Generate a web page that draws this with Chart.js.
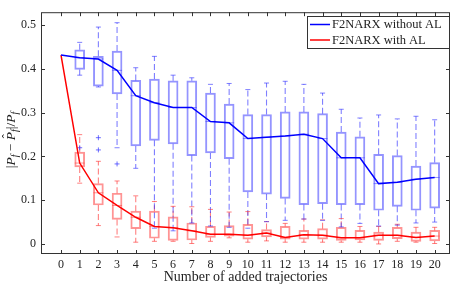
<!DOCTYPE html>
<html>
<head>
<meta charset="utf-8">
<script src="https://cdn.jsdelivr.net/npm/chart.js@4.4.0/dist/chart.umd.min.js"></script>
<style>
  html, body { margin: 0; padding: 0; background: #fff; }
</style>
</head>
<body>
<canvas id="chart" width="462" height="289"></canvas>
<script>
// number of added trajectories (x ticks) and the box positions
const iterations = [0, 1, 2, 3, 4, 5, 6, 7, 8, 9, 10, 11, 12, 13, 14, 15, 16, 17, 18, 19, 20];
const boxPos = [1, 2, 3, 4, 5, 6, 7, 8, 9, 10, 11, 12, 13, 14, 15, 16, 17, 18, 19, 20];
const yTicks = [0, 0.1, 0.2, 0.3, 0.4, 0.5];

// median error, F2NARX without AL
const medianNoAL = [0.432, 0.426, 0.423, 0.397, 0.339, 0.323, 0.312, 0.312, 0.280, 0.277, 0.241,
                    0.244, 0.247, 0.251, 0.241, 0.197, 0.197, 0.138, 0.141, 0.148, 0.152];
// median error, F2NARX with AL
const medianAL = [0.432, 0.185, 0.117, 0.088, 0.061, 0.040, 0.037, 0.030, 0.022, 0.022, 0.020,
                  0.025, 0.015, 0.021, 0.020, 0.014, 0.014, 0.020, 0.020, 0.015, 0.018];

// box plot pieces, without AL (x = 1..20)
const q1NoAL = [0.399, 0.361, 0.343, 0.224, 0.237, 0.229, 0.202, 0.208, 0.195, 0.119,
                0.114, 0.104, 0.090, 0.092, 0.090, 0.090, 0.077, 0.086, 0.077, 0.082];
const q3NoAL = [0.444, 0.429, 0.441, 0.374, 0.377, 0.373, 0.373, 0.345, 0.320, 0.296,
                0.296, 0.302, 0.302, 0.298, 0.256, 0.245, 0.205, 0.202, 0.178, 0.186];
const hiNoAL = [0.461, 0.496, 0.506, 0.403, 0.429, 0.386, 0.380, 0.365, 0.367, 0.353,
                0.368, 0.372, 0.365, 0.345, 0.308, 0.288, 0.295, 0.286, 0.292, 0.284];
const loNoAL = [0.386, 0.359, 0.220, 0.173, 0.036, 0.030, 0.048, 0.041, 0.038, 0.036,
                0.051, 0.054, 0.057, 0.054, 0.039, 0.047, 0.041, 0.043, 0.048, 0.050];
const outX_NoAL = [1, 2, 2, 3];
const outY_NoAL = [0.220, 0.243, 0.215, 0.183];

// box plot pieces, with AL (x = 1..20)
const q1AL = [0.176, 0.089, 0.056, 0.035, 0.013, 0.008, 0.009, 0.015, 0.018, 0.011,
              0.016, 0.011, 0.011, 0.011, 0.008, 0.009, 0.008, 0.012, 0.006, 0.007];
const q3AL = [0.210, 0.138, 0.116, 0.075, 0.075, 0.062, 0.048, 0.040, 0.042, 0.045,
              0.033, 0.040, 0.031, 0.035, 0.038, 0.031, 0.027, 0.038, 0.027, 0.031];
const hiAL = [0.250, 0.189, 0.144, 0.110, 0.097, 0.086, 0.085, 0.079, 0.073, 0.074,
              0.051, 0.047, 0.057, 0.055, 0.058, 0.040, 0.040, 0.045, 0.038, 0.038];
const loAL = [0.139, 0.042, 0.016, 0.004, 0.006, 0.006, 0.001, 0.006, 0.014, 0.004,
              0.007, 0.004, 0.004, 0.004, 0.004, 0.004, 0.000, 0.006, 0.004, 0.001];

const serif = 'Liberation Serif';
const blue = '#0000ff', red = '#ff0000';
const blueBox = 'rgba(60,60,255,0.55)', redBox = 'rgba(255,60,60,0.55)';
const blueDash = 'rgba(50,50,255,0.62)', redDash = 'rgba(255,50,50,0.62)';

// helpers to build the library's data from the arrays
const pts = (xs, ys) => xs.map((x, i) => ({ x: x, y: ys[i] }));
const boxes = (lo, hi) => boxPos.map((x, i) => ({ x: x, y: [lo[i], hi[i]] }));
function whiskers(from, to) {
  const out = [];
  boxPos.forEach((x, i) => { out.push({ x: x, y: from[i] }, { x: x, y: to[i] }, { x: x, y: null }); });
  return out;
}

function boxSet(label, lo, hi, color) {
  return { type: 'bar', label: label, data: boxes(lo, hi), grouped: false, barThickness: 10,
           backgroundColor: 'rgba(0,0,0,0)', borderColor: color, borderWidth: 1.3,
           borderSkipped: false, order: 3 };
}
function whiskerSet(label, from, to, color) {
  return { type: 'line', label: label, data: whiskers(from, to), borderColor: color,
           borderWidth: 1.1, borderDash: [6, 3], pointRadius: 0, spanGaps: false, order: 3 };
}
function markSet(label, xs, ys, color, style, r) {
  return { type: 'scatter', label: label, data: pts(xs, ys), pointStyle: style, pointRadius: r,
           borderColor: color, backgroundColor: color, pointBorderWidth: 1, order: 2 };
}

const datasets = [
  { type: 'line', label: 'F2NARX without AL', data: pts(iterations, medianNoAL),
    borderColor: blue, backgroundColor: blue, borderWidth: 1.5, pointRadius: 0, order: 0 },
  { type: 'line', label: 'F2NARX with AL', data: pts(iterations, medianAL),
    borderColor: red, backgroundColor: red, borderWidth: 1.5, pointRadius: 0, order: 0 },
  boxSet('box without AL', q1NoAL, q3NoAL, blueBox),
  boxSet('box with AL', q1AL, q3AL, redBox),
  whiskerSet('upper whisker without AL', q3NoAL, hiNoAL, blueDash),
  whiskerSet('lower whisker without AL', q1NoAL, loNoAL, blueDash),
  whiskerSet('upper whisker with AL', q3AL, hiAL, redDash),
  whiskerSet('lower whisker with AL', q1AL, loAL, redDash),
  markSet('caps hi without AL', boxPos, hiNoAL, blueDash, 'line', 2.5),
  markSet('caps lo without AL', boxPos, loNoAL, blueDash, 'line', 2.5),
  markSet('caps hi with AL', boxPos, hiAL, redDash, 'line', 2.5),
  markSet('caps lo with AL', boxPos, loAL, redDash, 'line', 2.5),
  markSet('median without AL', boxPos, medianNoAL.slice(1), blueBox, 'line', 5),
  markSet('median with AL', boxPos, medianAL.slice(1), redBox, 'line', 5),
  markSet('outliers without AL', outX_NoAL, outY_NoAL, 'rgba(60,60,255,0.75)', 'cross', 2.5)
];

// frame with inward ticks, legend box and the y label
const decorations = {
  id: 'decorations',
  afterDraw(chart) {
    const ctx = chart.ctx, a = chart.chartArea, sx = chart.scales.x, sy = chart.scales.y;
    ctx.save();
    ctx.strokeStyle = '#333';
    ctx.lineWidth = 1;
    ctx.strokeRect(a.left + 0.5, a.top + 0.5, a.right - a.left - 1, a.bottom - a.top - 1);
    ctx.beginPath();
    iterations.forEach(v => {
      const px = Math.round(sx.getPixelForValue(v)) + 0.5;
      ctx.moveTo(px, a.bottom); ctx.lineTo(px, a.bottom - 4);
      ctx.moveTo(px, a.top); ctx.lineTo(px, a.top + 4);
    });
    yTicks.forEach(v => {
      const py = Math.round(sy.getPixelForValue(v)) + 0.5;
      ctx.moveTo(a.left, py); ctx.lineTo(a.left + 4, py);
      ctx.moveTo(a.right, py); ctx.lineTo(a.right - 4, py);
    });
    ctx.stroke();

    // legend
    const lx = 307, ly = 16, lw = 142, lh = 32;
    ctx.fillStyle = '#fff';
    ctx.fillRect(lx, ly, lw, lh);
    ctx.strokeStyle = '#333';
    ctx.strokeRect(lx + 0.5, ly + 0.5, lw, lh);
    [datasets[0], datasets[1]].forEach((d, i) => {
      const y = ly + 8.5 + i * 15.5;
      ctx.strokeStyle = d.borderColor;
      ctx.lineWidth = 1.5;
      ctx.beginPath(); ctx.moveTo(lx + 3, y); ctx.lineTo(lx + 23, y); ctx.stroke();
      ctx.fillStyle = '#222';
      ctx.font = '12.5px "' + serif + '"';
      ctx.textBaseline = 'middle';
      ctx.fillText(d.label, lx + 25, y + 0.5);
    });

    // y axis label |P_f - P^_f| / P_f
    const parts = [
      ['|', 'n', 0], ['P', 'i', 0], ['f', 's', 0], [' \u2212 ', 'n', 0], ['P', 'i', 1], ['f', 's', 0],
      ['|/', 'n', 0], ['P', 'i', 0], ['f', 's', 0]
    ];
    const fontOf = k => k === 'n' ? '13.5px "' + serif + '"' : k === 'i' ? 'italic 13.5px "' + serif + '"' : 'italic 10px "' + serif + '"';
    let total = 0;
    parts.forEach(p => { ctx.font = fontOf(p[1]); total += ctx.measureText(p[0]).width; });
    ctx.translate(10, 140);
    ctx.rotate(-Math.PI / 2);
    ctx.fillStyle = '#222';
    ctx.textBaseline = 'alphabetic';
    let x = -total / 2;
    parts.forEach(p => {
      ctx.font = fontOf(p[1]);
      const w = ctx.measureText(p[0]).width;
      ctx.fillText(p[0], x, p[1] === 's' ? 7.5 : 4.5);
      if (p[2]) { ctx.font = '12px "' + serif + '"'; ctx.fillText('\u02c6', x + 2, 0.5); }
      x += w;
    });
    ctx.restore();
  }
};

const tickFont = { family: serif, size: 12 };

new Chart(document.getElementById('chart'), {
  data: { datasets: datasets },
  options: {
    responsive: false,
    animation: false,
    events: [],
    layout: { padding: { top: 11, right: 12, left: 0, bottom: 0 } },
    plugins: { legend: { display: false }, tooltip: { enabled: false } },
    scales: {
      x: {
        type: 'linear', min: -0.55, max: 20.3,
        grid: { display: false, drawTicks: false }, border: { display: false },
        ticks: { stepSize: 1, includeBounds: false, autoSkip: false, maxRotation: 0, padding: 4,
                 color: '#222', font: tickFont, callback: v => String(v) },
        title: { display: true, text: 'Number of added trajectories', color: '#222',
                 font: { family: serif, size: 14 }, padding: { top: 0, bottom: 3 } },
        afterFit: s => { s.height = 35; }
      },
      y: {
        type: 'linear', min: -0.023, max: 0.53,
        grid: { display: false, drawTicks: false }, border: { display: false },
        ticks: { stepSize: 0.1, includeBounds: false, padding: 5, color: '#222', font: tickFont,
                 callback: v => Math.abs(v) < 1e-9 ? '0' : v.toFixed(1) },
        afterFit: s => { s.width = 41; }
      }
    }
  },
  plugins: [decorations]
});
</script>
</body>
</html>
